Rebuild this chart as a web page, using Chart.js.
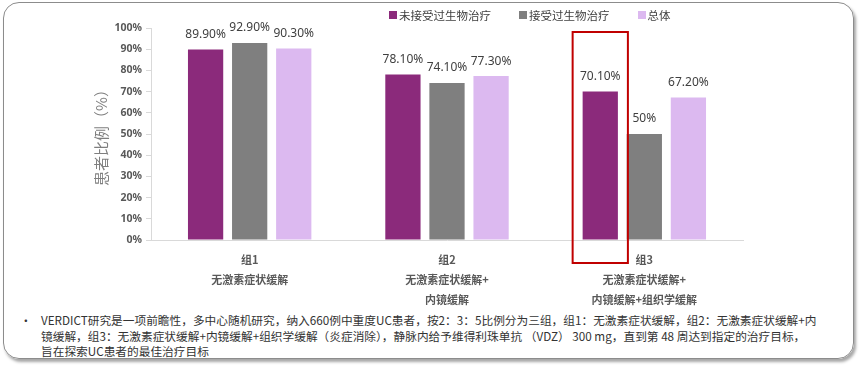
<!DOCTYPE html>
<html>
<head>
<meta charset="utf-8">
<script src="https://cdn.jsdelivr.net/npm/chart.js@4.4.1/dist/chart.umd.min.js"></script>
<style>
body{margin:0;background:#fff;font-family:"Noto Sans CJK SC",sans-serif;}
#frame{position:absolute;left:3px;top:2px;width:849px;height:355px;border:1.5px solid #8c8c8c;border-radius:16px;box-shadow:2px 3px 3px rgba(0,0,0,0.35);}
#holder{position:absolute;left:0;top:0;width:859px;height:310px;}
#legend{position:absolute;left:389px;top:6px;display:flex;font-size:11.5px;color:#404040;line-height:18px;white-space:nowrap;}
#legend .item{display:flex;align-items:center;margin-right:28px;}
#legend .box{width:8px;height:8px;margin-right:2px;}
#note{position:absolute;left:41px;top:312px;font-size:11.7px;line-height:15.5px;color:#333;white-space:nowrap;}
#note .dot{position:absolute;left:-21px;top:0;}
</style>
</head>
<body>
<div id="frame"></div>
<div id="holder"><canvas id="chart-area" width="859" height="310"></canvas></div>
<div id="legend"></div>
<div id="note"><span class="dot">•</span>VERDICT研究是一项前瞻性，多中心随机研究，纳入660例中重度UC患者，按2：3：5比例分为三组，组1：无激素症状缓解，组2：无激素症状缓解+内<br>镜缓解，组3：无激素症状缓解+内镜缓解+组织学缓解（炎症消除），静脉内给予维得利珠单抗 （VDZ） 300 mg，直到第 48 周达到指定的治疗目标，<br>旨在探索UC患者的最佳治疗目标</div>
<script>
// 数据
var categories = [["组1","无激素症状缓解"],["组2","无激素症状缓解+","内镜缓解"],["组3","无激素症状缓解+","内镜缓解+组织学缓解"]];
var seriesNames = ["未接受过生物治疗","接受过生物治疗","总体"];
var naiveValues = [89.9, 78.1, 70.1];
var experiencedValues = [92.9, 74.1, 50];
var overallValues = [90.3, 77.3, 67.2];
var seriesColors = ["#8b2a7b","#7f7f7f","#dcb9f0"];
var yMax = 100, yStep = 10;

function fmtValue(v){
    return (v % 1 === 0) ? v + "%" : v.toFixed(2) + "%";
}

//图例
function buildLegend(){
    var html = "";
    for(var i = 0; i < seriesNames.length; i++){
        html += '<div class="item"><span class="box" style="background:' + seriesColors[i] + '"></span>' + seriesNames[i] + '</div>';
    }
    document.getElementById("legend").innerHTML = html;
}

//柱顶数值
var valueLabels = {
    id: 'valueLabels',
    afterDatasetsDraw: function(chart){
        var ctx = chart.ctx;
        ctx.save();
        ctx.font = '12px "Noto Sans"';
        ctx.fillStyle = '#404040';
        ctx.textAlign = 'center';
        ctx.textBaseline = 'middle';
        chart.data.datasets.forEach(function(ds, i){
            chart.getDatasetMeta(i).data.forEach(function(bar, j){
                ctx.fillText(fmtValue(ds.data[j]), bar.x, bar.y - 15);
            });
        });
        ctx.restore();
    }
};

//组3 红框
var highlightBox = {
    id: 'highlightBox',
    afterDraw: function(chart){
        var bar = chart.getDatasetMeta(0).data[2];
        var area = chart.chartArea;
        var ctx = chart.ctx;
        var x1 = bar.x - bar.width / 2 - 10;
        var x2 = bar.x + bar.width / 2 + 10;
        ctx.save();
        ctx.strokeStyle = '#c00000';
        ctx.lineWidth = 2;
        ctx.strokeRect(x1, area.top + 4, x2 - x1, area.bottom + 23 - area.top - 4);
        ctx.restore();
    }
};

function loadChart(){
    var values = [naiveValues, experiencedValues, overallValues];
    var datasets = [];
    for(var i = 0; i < seriesNames.length; i++){
        datasets.push({
            label: seriesNames[i],
            data: values[i],
            backgroundColor: seriesColors[i],
            categoryPercentage: 0.67,
            barPercentage: 0.8
        });
    }
    var config = {
        type: 'bar',
        data: { labels: categories, datasets: datasets },
        plugins: [valueLabels, highlightBox],
        options: {
            responsive: false,
            animation: false,
            layout: { padding: { left: 88, right: 116, top: 28, bottom: 0 } },
            plugins: { legend: { display: false }, tooltip: { enabled: false } },
            scales: {
                x: {
                    grid: { display: false },
                    border: { display: true, color: '#d9d9d9' },
                    ticks: {
                        color: '#595959',
                        font: { family: '"Noto Sans CJK SC"', size: 11, weight: 'bold', lineHeight: 1.82 },
                        padding: 2,
                        maxRotation: 0
                    },
                    afterFit: function(scale){ scale.height = 70; }
                },
                y: {
                    min: 0,
                    max: yMax,
                    ticks: {
                        stepSize: yStep,
                        color: '#595959',
                        padding: 4,
                        font: { family: '"Noto Sans"', size: 10.5, weight: 'bold' },
                        callback: function(v){ return v + '%'; }
                    },
                    grid: { drawOnChartArea: false, drawTicks: true, tickLength: 5, color: '#d9d9d9' },
                    border: { display: true, color: '#d9d9d9' },
                    title: {
                        display: true,
                        text: '患者比例（%）',
                        color: '#7f7f7f',
                        font: { family: '"Noto Sans CJK SC"', size: 15 },
                        padding: { top: 4, bottom: 0 }
                    },
                    afterFit: function(scale){ scale.width = 63; }
                }
            }
        }
    };
    var ctx = document.getElementById('chart-area').getContext('2d');
    new Chart(ctx, config);
}

buildLegend();
loadChart();
</script>
</body>
</html>
